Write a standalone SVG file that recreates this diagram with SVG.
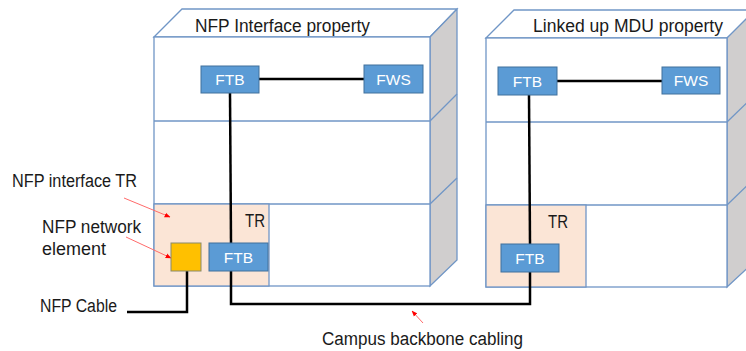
<svg xmlns="http://www.w3.org/2000/svg" width="746" height="351" viewBox="0 0 746 351">
<defs>
<style>
.wall{fill:#ffffff;stroke:#7096c6;stroke-width:1.3}
.side{fill:#d0cece;stroke:#7096c6;stroke-width:1.3}
.fl{fill:none;stroke:#7096c6;stroke-width:1.3}
.tr{fill:#fbe5d6;stroke:#7096c6;stroke-width:1.3}
.box{fill:#5b9bd5;stroke:#41719c;stroke-width:1}
.bt{font-family:"Liberation Sans",Arial,sans-serif;font-size:15.5px;fill:#ffffff;text-anchor:middle}
.lbl{font-family:"Liberation Sans",Arial,sans-serif;font-size:18px;fill:#1a1a1a}
.cab{fill:none;stroke:#000000;stroke-width:2.5}
.red{fill:none;stroke:#ff6b6b;stroke-width:1}
</style>
<marker id="ra" viewBox="0 0 10 10" refX="9" refY="5" markerWidth="6" markerHeight="6" orient="auto">
<path d="M0,1 L10,5 L0,9 z" fill="#ff0000"/>
</marker>
</defs>

<g id="building-left">
<polygon class="wall" points="154,37 182,9 457,9 430,37"/>
<polygon class="side" points="430,37 457,9 457,260 430,286"/>
<line class="fl" x1="430" y1="121" x2="457" y2="94"/>
<line class="fl" x1="430" y1="204" x2="457" y2="178"/>
<rect class="wall" x="154" y="37" width="276" height="249"/>
<line class="fl" x1="154" y1="121" x2="430" y2="121"/>
<line class="fl" x1="154" y1="204" x2="430" y2="204"/>
<rect class="tr" x="154" y="204" width="115" height="82"/>
<text class="lbl" x="195" y="32" textLength="175" lengthAdjust="spacingAndGlyphs">NFP Interface property</text>
<text class="lbl" x="245" y="227" textLength="20" lengthAdjust="spacingAndGlyphs">TR</text>
</g>

<g id="building-right">
<polygon class="wall" points="486,38 514,10 760,10 727,38"/>
<polygon class="side" points="727,38 755,10 755,261 727,287"/>
<line class="fl" x1="727" y1="122" x2="755" y2="95"/>
<line class="fl" x1="727" y1="205" x2="755" y2="178"/>
<rect class="wall" x="486" y="38" width="241" height="249"/>
<line class="fl" x1="486" y1="122" x2="727" y2="122"/>
<line class="fl" x1="486" y1="205" x2="727" y2="205"/>
<rect class="tr" x="486" y="205" width="100" height="82"/>
<text class="lbl" x="533" y="32" textLength="190" lengthAdjust="spacingAndGlyphs">Linked up MDU property</text>
<text class="lbl" x="548" y="228" textLength="20" lengthAdjust="spacingAndGlyphs">TR</text>
</g>

<g id="connectors">
<line class="cab" x1="259" y1="79" x2="364" y2="79"/>
<line class="cab" x1="557" y1="81" x2="662" y2="81"/>
<path class="cab" d="M230,93 L231,243"/>
<path class="cab" d="M231,271 L231,304 L530,304 L530,272"/>
<path class="cab" d="M529,95 L530,244"/>
<path class="cab" d="M127,312 L187,312 L187,271"/>
<line class="red" x1="124" y1="198" x2="170" y2="217" marker-end="url(#ra)"/>
<line class="red" x1="126" y1="237" x2="171" y2="258" marker-end="url(#ra)"/>
<line class="red" x1="423" y1="323" x2="412" y2="311" marker-end="url(#ra)"/>
</g>

<g id="ftb-left-top"><rect class="box" x="201" y="66" width="58" height="27"/><text class="bt" x="230" y="85">FTB</text></g>
<g id="fws-left"><rect class="box" x="364" y="65" width="59" height="28"/><text class="bt" x="393.5" y="85">FWS</text></g>
<g id="ftb-left-tr"><rect class="box" x="209" y="243" width="59" height="28"/><text class="bt" x="238.5" y="263">FTB</text></g>
<g id="nfp-element"><rect x="171" y="243" width="30" height="28" fill="#ffc000" stroke="#8a8a6a" stroke-width="1"/></g>
<g id="ftb-right-top"><rect class="box" x="498" y="67" width="59" height="28"/><text class="bt" x="527.5" y="87">FTB</text></g>
<g id="fws-right"><rect class="box" x="662" y="67" width="58" height="27"/><text class="bt" x="691" y="86">FWS</text></g>
<g id="ftb-right-tr"><rect class="box" x="501" y="244" width="58" height="28"/><text class="bt" x="530" y="264">FTB</text></g>

<g id="labels">
<text class="lbl" x="12" y="187" textLength="125" lengthAdjust="spacingAndGlyphs">NFP interface TR</text>
<text class="lbl" x="42" y="233" textLength="99" lengthAdjust="spacingAndGlyphs">NFP network</text>
<text class="lbl" x="42" y="255" textLength="64" lengthAdjust="spacingAndGlyphs">element</text>
<text class="lbl" x="40" y="312" textLength="77" lengthAdjust="spacingAndGlyphs">NFP Cable</text>
<text class="lbl" x="322" y="345" textLength="201" lengthAdjust="spacingAndGlyphs">Campus backbone cabling</text>
</g>
</svg>
